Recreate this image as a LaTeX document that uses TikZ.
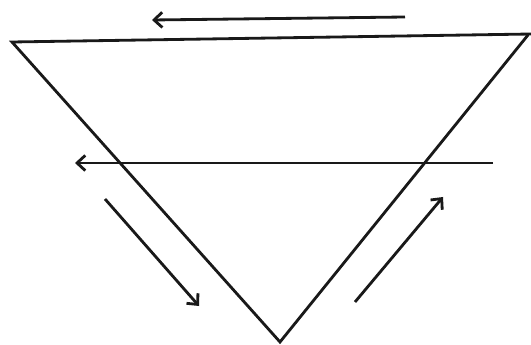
\documentclass[tikz,border=0pt]{standalone}
\usetikzlibrary{arrows.meta}

\begin{document}
\begin{tikzpicture}[
    x=0.03cm, y=-0.03cm,
    >={Straight Barb[length=7pt,width=13pt]},
    edge/.style={line width=2.4pt, color=black!90, line join=miter},
    flow/.style={->, line width=2.4pt, color=black!90},
]
\useasboundingbox[fill=white] (0,0) rectangle (531,345);
% triangle corners
\coordinate (t_left) at (12,42);
\coordinate (t_right) at (531,34);
\coordinate (t_bottom) at (280,342);
\draw[edge] (t_right) -- (t_left) -- (t_bottom) -- (528,35);
% arrow end points
\coordinate (a_1_start) at (405,17);
\coordinate (a_1_end) at (152,20);
\coordinate (a_2_start) at (493,163);
\coordinate (a_2_end) at (75,163);
\coordinate (a_3_start) at (105,199);
\coordinate (a_3_end) at (199,306);
\coordinate (a_4_start) at (355,302);
\coordinate (a_4_end) at (443,197);
\draw[flow] (a_1_start) -- (a_1_end);
\draw[flow] (a_2_start) -- (a_2_end);
\draw[flow] (a_3_start) -- (a_3_end);
\draw[flow] (a_4_start) -- (a_4_end);
\end{tikzpicture}
\end{document}
